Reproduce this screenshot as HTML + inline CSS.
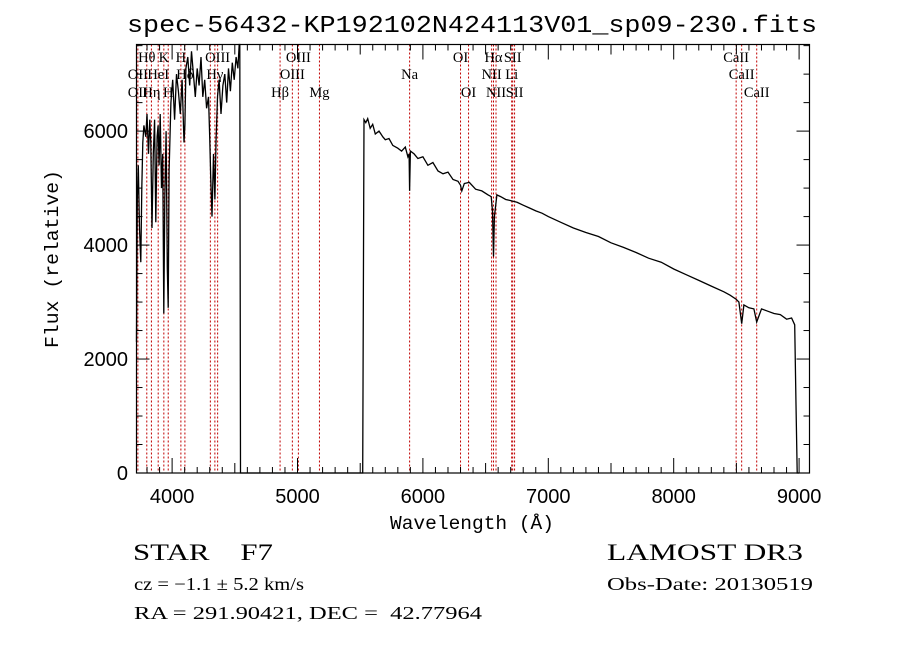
<!DOCTYPE html>
<html><head><meta charset="utf-8"><style>
html,body{margin:0;padding:0;background:#fff;width:900px;height:649px;overflow:hidden}
svg text{font-family:"Liberation Serif",serif;fill:#000;white-space:pre}
.sans{font-family:"Liberation Sans",sans-serif}
.mono{font-family:"Liberation Mono",monospace}
</style></head><body>
<svg id="chart" width="900" height="649" viewBox="0 0 900 649" xmlns="http://www.w3.org/2000/svg" xml:space="preserve">
<rect width="900" height="649" fill="#fff"/>
<text class="mono" x="472" y="32" font-size="24" text-anchor="middle" textLength="690" lengthAdjust="spacingAndGlyphs">spec-56432-KP192102N424113V01_sp09-230.fits</text>
<g id="lines"></g>
<g id="linelabels"></g>
<path id="spec" fill="none" stroke="#000" stroke-width="1.3"/>
<rect x="136.5" y="44.5" width="673" height="428.5" fill="none" stroke="#000" stroke-width="1.2"/>
<g id="axes"></g>
<text class="mono" x="472" y="529" font-size="19" text-anchor="middle" textLength="164" lengthAdjust="spacingAndGlyphs">Wavelength (Å)</text>
<text class="mono" transform="translate(58,259) rotate(-90)" font-size="19" text-anchor="middle" textLength="178" lengthAdjust="spacingAndGlyphs">Flux (relative)</text>
<text x="133" y="560" font-size="23" textLength="140" lengthAdjust="spacingAndGlyphs">STAR    F7</text>
<text x="607" y="560" font-size="23" textLength="196" lengthAdjust="spacingAndGlyphs">LAMOST DR3</text>
<text x="134" y="590" font-size="18" textLength="170" lengthAdjust="spacingAndGlyphs">cz = −1.1 ± 5.2 km/s</text>
<text x="607" y="590" font-size="18" textLength="206" lengthAdjust="spacingAndGlyphs">Obs-Date: 20130519</text>
<text x="134" y="619" font-size="18" textLength="348" lengthAdjust="spacingAndGlyphs">RA = 291.90421, DEC =  42.77964</text>
</svg>
<script>
const wave = [3716,3722,3730,3740,3750,3758,3766,3775,3790,3800,3812,3822,3830,3840,3850,3860,3870,3880,3888,3896,3905,3915,3925,3934,3942,3952,3962,3969,3976,3990,4005,4020,4035,4050,4065,4080,4095,4102,4110,4125,4140,4155,4170,4185,4200,4215,4230,4245,4260,4275,4290,4300,4308,4318,4330,4341,4350,4362,4375,4390,4405,4420,4435,4450,4465,4480,4495,4510,4525,4535,4540,4545,5520,5530,5545,5560,5580,5600,5620,5650,5680,5700,5730,5760,5800,5830,5860,5880,5890,5894,5900,5930,5960,6000,6040,6080,6120,6160,6200,6240,6280,6300,6310,6330,6370,6420,6470,6520,6545,6555,6563,6570,6590,6620,6660,6700,6750,6800,6850,6900,6950,7000,7100,7200,7300,7400,7500,7600,7700,7800,7900,8000,8100,8200,8300,8400,8450,8498,8520,8542,8560,8600,8640,8662,8700,8750,8800,8850,8900,8940,8965,8975,8985,9000];
const flux = [2300,4800,5400,4300,3700,5000,5800,6100,5900,6300,5600,6200,5800,4300,5600,6200,4400,5900,6100,5400,6300,5000,5600,2800,4800,6000,3600,2900,5300,6500,6900,6200,7000,6700,6300,6900,5800,6100,7100,7300,6800,7400,7000,6600,7100,6800,7300,6600,6900,6400,6600,5900,5200,4500,5600,4800,5800,6600,6900,6300,6800,7000,6500,7100,6700,7200,6900,7300,7100,7600,7600,0,0,6200,6150,6220,6050,6120,5950,6000,5900,5850,5870,5750,5700,5650,5720,5550,5600,4950,5650,5600,5520,5550,5400,5450,5300,5250,5280,5150,5120,5050,4950,5080,5100,4980,4950,4880,4850,4600,3800,4500,4880,4850,4800,4780,4750,4700,4650,4600,4560,4500,4400,4300,4220,4150,4040,3960,3870,3770,3700,3580,3480,3380,3280,3180,3120,3050,3000,2620,2950,2900,2880,2650,2880,2840,2800,2780,2700,2720,2600,1200,0,0];
const lineWaves = [3727,3798,3835,3889,3934,3969,4070,4102,4305,4341,4363,4861,4959,5007,5175,5894,6300,6364,6548,6563,6583,6708,6716,6731,8498,8542,8662];
const labelTexts = ["Hθ","K","H","OIII","OIII","OI","Hα","SII","CaII","OII","HeI","Hδ","Hγ","OIII","Na","NII","Li","CaII","OII","Hη","H","Hβ","Mg","OI","NII","SII","CaII"];
const labelWaves = [3798,3934,4070,4363,5007,6300,6563,6716,8498,3727,3889,4102,4341,4959,5894,6548,6708,8542,3727,3835,3969,4861,5175,6364,6583,6731,8662];
const labelRows = [0,0,0,0,0,0,0,0,0,1,1,1,1,1,1,1,1,1,2,2,2,2,2,2,2,2,2];
const xTicks = [4000,5000,6000,7000,8000,9000];
const yTicks = [0,2000,4000,6000];

const X0=136.5,X1=809.5,Y0=44.5,Y1=473;
const W0=3716,W1=9083,F0=0,F1=7520;
function xs(w){return X0+(w-W0)/(W1-W0)*(X1-X0);}
function ys(f){return Y1-(f-F0)/(F1-F0)*(Y1-Y0);}
const NS='http://www.w3.org/2000/svg';
function mk(tag,attrs,parent){const e=document.createElementNS(NS,tag);for(const k in attrs)e.setAttribute(k,attrs[k]);parent.appendChild(e);return e;}

let d='';
for(let i=0;i<wave.length;i++){d+=(i?'L':'M')+xs(wave[i]).toFixed(1)+','+Math.max(Y0,ys(flux[i])).toFixed(1);}
document.getElementById('spec').setAttribute('d',d);

const lg=document.getElementById('lines');
lineWaves.forEach(w=>{
  const l=mk('line',{x1:xs(w),x2:xs(w),y1:Y0,y2:Y1,stroke:'#c00000','stroke-width':1,'stroke-dasharray':'2,2'},lg);
  
  
});
const lb=document.getElementById('linelabels');
const rowY=[62,79,97];
labelTexts.forEach((t,i)=>{
  const e=mk('text',{x:xs(labelWaves[i]),y:rowY[labelRows[i]],'font-size':14.5,'text-anchor':'middle'},lb);
  e.textContent=t;
  
  
});

const ax=document.getElementById('axes');
for(let w=3800;w<=9000;w+=100){
  const major=w%1000===0, mid=w%500===0;
  const len=major?15:(mid?10:6);
  mk('line',{x1:xs(w),x2:xs(w),y1:Y1,y2:Y1-len,stroke:'#000'},ax);
  mk('line',{x1:xs(w),x2:xs(w),y1:Y0,y2:Y0+len,stroke:'#000'},ax);
}
xTicks.forEach(w=>{
  const t=mk('text',{x:xs(w),y:503,'font-size':20,'text-anchor':'middle',class:'sans'},ax);
  t.textContent=w;
  
  
});
for(let f=0;f<=7500;f+=500){
  const len=f%2000===0?13:6;
  mk('line',{x1:X0,x2:X0+len,y1:ys(f),y2:ys(f),stroke:'#000'},ax);
  mk('line',{x1:X1,x2:X1-len,y1:ys(f),y2:ys(f),stroke:'#000'},ax);
}
yTicks.forEach(f=>{
  const t=mk('text',{x:128,y:ys(f)+7,'font-size':20,'text-anchor':'end',class:'sans'},ax);
  t.textContent=f;
  
  
});
</script>
</body></html>
